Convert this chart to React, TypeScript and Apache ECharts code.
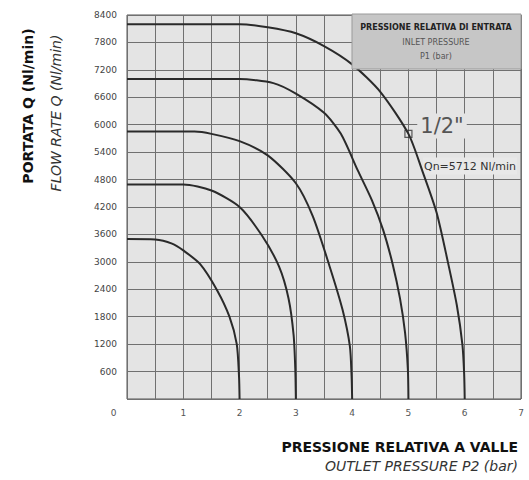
import React, { useEffect, useRef } from "react";
import * as echarts from "echarts";

// Outlet pressure P2 (bar) -> flow rate Q (Nl/min), one curve per inlet pressure P1
const inletPressures = ["2", "3", "4", "5", "6"];
const curveP1_2 = [[0, 3500], [0.5, 3490], [0.8, 3400], [1.0, 3250], [1.3, 2950], [1.6, 2380], [1.82, 1800], [1.95, 1200], [1.99, 500], [2, 0]];
const curveP1_3 = [[0, 4690], [1.0, 4690], [1.5, 4560], [2.0, 4200], [2.4, 3570], [2.7, 2900], [2.87, 2200], [2.96, 1400], [2.99, 650], [3, 0]];
const curveP1_4 = [[0, 5850], [1.2, 5850], [1.5, 5800], [2.0, 5640], [2.5, 5330], [3.0, 4720], [3.3, 4000], [3.6, 2900], [3.83, 1950], [3.96, 1150], [3.99, 500], [4, 0]];
const curveP1_5 = [[0, 7000], [2.0, 7000], [2.6, 6910], [3.0, 6680], [3.5, 6260], [3.8, 5800], [4.1, 5000], [4.35, 4350], [4.55, 3700], [4.72, 2950], [4.85, 2200], [4.94, 1450], [4.99, 650], [5, 0]];
const curveP1_6 = [[0, 8200], [2.0, 8200], [2.5, 8130], [3.0, 8000], [3.5, 7720], [4.0, 7320], [4.5, 6720], [5.0, 5800], [5.25, 4980], [5.5, 4080], [5.7, 3000], [5.86, 2050], [5.96, 1180], [5.99, 550], [6, 0]];
const curves = [curveP1_2, curveP1_3, curveP1_4, curveP1_5, curveP1_6];

const qnMarker = [[5, 5800]];
const qnLabel = "Qn=5712 Nl/min";
const sizeLabel = "1/2\"";

const yAxisTitle = "PORTATA Q (Nl/min)";
const yAxisSubtitle = "FLOW RATE Q (Nl/min)";
const xAxisTitle = "PRESSIONE RELATIVA A VALLE";
const xAxisSubtitle = "OUTLET PRESSURE P2 (bar)";
const legendTitle = "PRESSIONE RELATIVA DI ENTRATA";
const legendLine2 = "INLET PRESSURE";
const legendLine3 = "P1 (bar)";

const xMin = 0, xMax = 7, xInterval = 0.5;
const yMin = 0, yMax = 8400, yInterval = 600;

export default function App() {
  const ref = useRef<HTMLDivElement>(null);
  useEffect(() => {
    if (!ref.current) return;
    const chart = echarts.init(ref.current, null, { renderer: "svg" });
    const font = "DejaVu Sans";
    const lineSeries = curves.map((c, idx) => ({
      type: "line",
      name: inletPressures[idx],
      data: c.map((p, i) =>
        i === 0
          ? {
              value: p,
              label: {
                show: true,
                formatter: inletPressures[idx],
                position: "top",
                offset: [7, 2],
                fontSize: 9,
                color: "#333",
                fontFamily: font,
              },
            }
          : p
      ),
      smooth: 0.25,
      showSymbol: false,
      symbol: "none",
      lineStyle: { color: "#2a2a2a", width: 2 },
      z: 5,
    }));
    const option: any = {
      animation: false,
      grid: {
        left: 127,
        right: 8,
        top: 15,
        bottom: 81,
        show: true,
        backgroundColor: "#e4e4e4",
        borderColor: "#555",
        borderWidth: 1,
      },
      xAxis: {
        type: "value",
        min: xMin,
        max: xMax,
        interval: xInterval,
        axisLine: { show: false },
        axisTick: { show: false },
        splitLine: { show: true, lineStyle: { color: "#707070", width: 1 } },
        axisLabel: {
          formatter: (v: number) =>
            v === 0 ? "{z|0}" : Number.isInteger(v) ? String(v) : "",
          rich: { z: { padding: [0, 27, 0, 0], fontSize: 9, color: "#555", fontFamily: font } },
          color: "#555",
          fontSize: 9,
          margin: 9,
          fontFamily: font,
          showMinLabel: true,
          showMaxLabel: true,
        },
      },
      yAxis: {
        type: "value",
        min: yMin,
        max: yMax,
        interval: yInterval,
        axisLine: { show: false },
        axisTick: { show: false },
        splitLine: { show: true, lineStyle: { color: "#707070", width: 1 } },
        axisLabel: {
          formatter: (v: number) => (v === 0 ? "" : String(v)),
          color: "#444",
          fontSize: 9,
          margin: 10,
          fontFamily: font,
        },
      },
      series: [
        ...lineSeries,
        {
          type: "scatter",
          data: qnMarker,
          symbol: "rect",
          symbolSize: 7,
          itemStyle: { color: "rgba(0,0,0,0)", borderColor: "#333", borderWidth: 1.2 },
          z: 6,
        },
      ],
      graphic: [
        {
          type: "rect",
          shape: { x: 352, y: 14, width: 169, height: 55 },
          style: { fill: "#c6c6c6", stroke: "#9a9a9a", lineWidth: 1 },
          z: 10,
        },
        {
          type: "text",
          x: 436,
          y: 27,
          style: {
            text: legendTitle,
            fontSize: 8,
            fontWeight: "bold",
            fill: "#222",
            fontFamily: font,
            textAlign: "center",
            textVerticalAlign: "middle",
          },
          z: 11,
        },
        {
          type: "text",
          x: 436,
          y: 42,
          style: {
            text: legendLine2,
            fontSize: 8,
            fill: "#555",
            fontFamily: font,
            textAlign: "center",
            textVerticalAlign: "middle",
          },
          z: 11,
        },
        {
          type: "text",
          x: 436,
          y: 56,
          style: {
            text: legendLine3,
            fontSize: 8,
            fill: "#555",
            fontFamily: font,
            textAlign: "center",
            textVerticalAlign: "middle",
          },
          z: 11,
        },
        {
          type: "text",
          x: 442,
          y: 126,
          style: {
            text: sizeLabel,
            fontSize: 21,
            fill: "#555",
            fontFamily: font,
            textAlign: "center",
            textVerticalAlign: "middle",
            backgroundColor: "#e4e4e4",
            padding: [2, 3],
          },
          z: 3,
        },
        {
          type: "text",
          x: 470,
          y: 166,
          style: {
            text: qnLabel,
            fontSize: 11,
            fill: "#333",
            fontFamily: font,
            textAlign: "center",
            textVerticalAlign: "middle",
            backgroundColor: "#e8e8e8",
            padding: [3, 1],
          },
          z: 3,
        },
        {
          type: "text",
          x: 28,
          y: 106,
          rotation: Math.PI / 2,
          style: {
            text: yAxisTitle,
            fontSize: 14,
            fontWeight: "bold",
            fill: "#111",
            fontFamily: font,
            textAlign: "center",
            textVerticalAlign: "middle",
          },
        },
        {
          type: "text",
          x: 56,
          y: 113,
          rotation: Math.PI / 2,
          style: {
            text: yAxisSubtitle,
            fontSize: 14,
            fontStyle: "italic",
            fill: "#333",
            fontFamily: font,
            textAlign: "center",
            textVerticalAlign: "middle",
          },
        },
        {
          type: "text",
          x: 518,
          y: 447,
          style: {
            text: xAxisTitle,
            fontSize: 14,
            fontWeight: "bold",
            fill: "#111",
            fontFamily: font,
            textAlign: "right",
            textVerticalAlign: "middle",
          },
        },
        {
          type: "text",
          x: 518,
          y: 466,
          style: {
            text: xAxisSubtitle,
            fontSize: 14,
            fontStyle: "italic",
            fill: "#333",
            fontFamily: font,
            textAlign: "right",
            textVerticalAlign: "middle",
          },
        },
      ],
    };
    chart.setOption(option);
    return () => chart.dispose();
  }, []);
  return (
    <div
      ref={ref}
      style={{ position: "fixed", left: 0, top: 0, width: 529, height: 480, background: "#fff" }}
    />
  );
}
